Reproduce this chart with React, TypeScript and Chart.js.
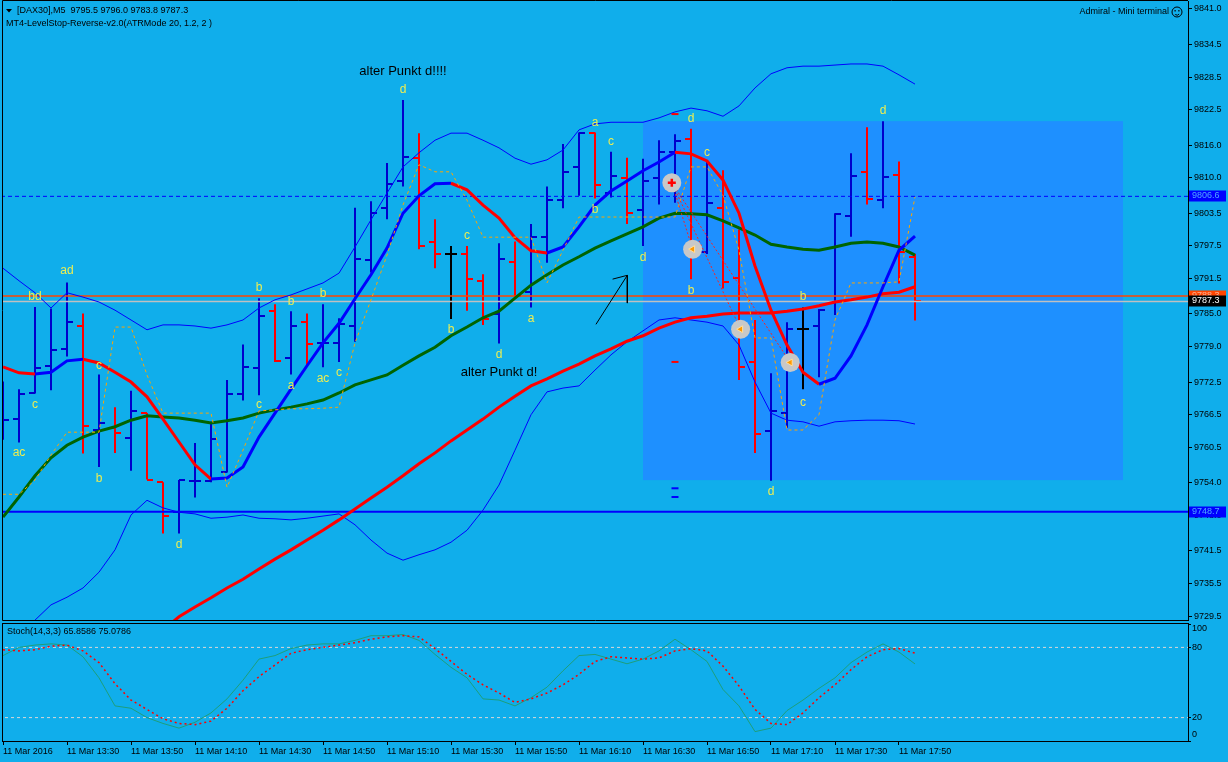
import React, { useEffect, useRef } from 'react';
import { Chart, registerables } from 'chart.js';

Chart.register(...registerables);

// ---------------- data ----------------
const symbolTitle = '[DAX30],M5';
const indicatorTitle = 'MT4-LevelStop-Reverse-v2.0(ATRMode 20, 1.2, 2 )';
const brokerTitle = 'Admiral - Mini terminal';

const timeTickIndex = [0, 4, 8, 12, 16, 20, 24, 28, 32, 36, 40, 44, 48, 52, 56];
const timeTickLabels = ['11 Mar 2016', '11 Mar 13:30', '11 Mar 13:50', '11 Mar 14:10', '11 Mar 14:30', '11 Mar 14:50', '11 Mar 15:10', '11 Mar 15:30', '11 Mar 15:50', '11 Mar 16:10', '11 Mar 16:30', '11 Mar 16:50', '11 Mar 17:10', '11 Mar 17:30', '11 Mar 17:50'];
const priceTicks = [9841.0, 9834.5, 9828.5, 9822.5, 9816.0, 9810.0, 9803.5, 9797.5, 9791.5, 9785.0, 9779.0, 9772.5, 9766.5, 9760.5, 9754.0, 9748.0, 9741.5, 9735.5, 9729.5];
const stochTicks = [0, 20, 80, 100];
const stochLevels = [20, 80];

const opens = [9764.0, 9765.8, 9770.5, 9775.5, 9778.5, 9782.8, 9763.7, 9764.1, 9762.3, 9766.8, 9754.1, 9748.7, 9754.3, 9754.3, 9755.9, 9770.4, 9775.0, 9785.5, 9777.0, 9783.6, 9779.6, 9779.7, 9782.8, 9794.9, 9804.4, 9809.4, 9813.7, 9798.3, 9796.1, 9796.0, 9791.1, 9785.0, 9794.6, 9789.1, 9799.2, 9805.9, 9812.0, 9818.3, 9807.3, 9809.9, 9804.0, 9810.0, 9814.8, 9817.1, 9796.4, 9804.4, 9791.6, 9776.1, 9763.6, 9766.9, 9782.2, 9782.8, 9787.1, 9803.0, 9811.0, 9805.9, 9810.5, 9795.5];
const highs = [9772.6, 9771.2, 9786.3, 9786.0, 9790.8, 9785.1, 9773.9, 9767.9, 9770.9, 9766.8, 9754.1, 9754.5, 9761.3, 9765.2, 9772.9, 9779.4, 9787.9, 9786.8, 9785.5, 9785.1, 9786.8, 9784.2, 9804.5, 9805.7, 9812.7, 9824.3, 9818.2, 9802.4, 9797.5, 9797.5, 9792.3, 9798.0, 9798.3, 9801.5, 9808.4, 9816.2, 9818.3, 9818.3, 9814.8, 9813.7, 9813.5, 9816.9, 9818.0, 9819.0, 9813.1, 9811.4, 9800.5, 9783.9, 9774.1, 9783.5, 9786.2, 9785.9, 9803.5, 9814.5, 9819.3, 9820.4, 9813.0, 9796.0];
const lows = [9761.9, 9761.4, 9770.4, 9771.0, 9777.2, 9759.4, 9756.9, 9759.5, 9756.2, 9754.6, 9744.7, 9744.7, 9751.3, 9754.1, 9755.9, 9769.1, 9770.1, 9776.2, 9773.9, 9775.6, 9775.2, 9776.2, 9779.9, 9792.6, 9802.4, 9808.4, 9796.9, 9793.4, 9784.1, 9785.6, 9783.0, 9779.6, 9788.2, 9786.2, 9794.4, 9804.4, 9806.7, 9806.2, 9806.4, 9801.5, 9797.5, 9805.1, 9805.4, 9791.4, 9796.0, 9789.7, 9772.9, 9759.5, 9754.4, 9764.1, 9771.2, 9773.4, 9784.8, 9799.2, 9805.1, 9804.4, 9790.6, 9783.8];
const closes = [9765.5, 9770.4, 9775.1, 9778.3, 9783.5, 9764.5, 9765.0, 9763.2, 9767.2, 9754.6, 9747.9, 9754.5, 9754.4, 9762.0, 9770.4, 9775.3, 9784.7, 9776.4, 9782.8, 9779.5, 9779.7, 9783.2, 9795.1, 9803.5, 9808.9, 9813.9, 9797.4, 9796.0, 9796.1, 9791.4, 9784.1, 9795.1, 9788.3, 9799.2, 9805.9, 9811.0, 9818.3, 9808.6, 9810.3, 9803.6, 9809.4, 9814.8, 9816.8, 9796.1, 9805.4, 9790.9, 9775.3, 9762.9, 9767.1, 9782.2, 9782.2, 9785.7, 9803.4, 9810.3, 9806.1, 9810.2, 9796.3, 9787.3];

const bbUpper = [9793.4, 9791.1, 9788.9, 9786.1, 9788.9, 9788.1, 9787.2, 9785.7, 9783.9, 9782.1, 9783.0, 9783.0, 9782.8, 9782.4, 9783.0, 9783.9, 9786.1, 9787.6, 9788.5, 9789.6, 9790.7, 9792.5, 9797.3, 9802.3, 9807.2, 9812.0, 9814.6, 9816.9, 9818.2, 9818.2, 9816.9, 9815.5, 9813.6, 9812.5, 9813.3, 9815.1, 9818.8, 9819.9, 9820.2, 9820.2, 9820.2, 9821.0, 9822.1, 9822.8, 9822.3, 9821.3, 9823.2, 9826.5, 9829.1, 9830.2, 9830.5, 9830.5, 9830.7, 9830.9, 9830.9, 9830.5, 9828.9, 9827.2];
const bbLower = [9723.3, 9725.5, 9728.8, 9731.6, 9733.0, 9734.7, 9737.6, 9741.7, 9748.1, 9750.8, 9749.4, 9748.6, 9748.3, 9747.5, 9747.7, 9748.1, 9747.5, 9747.4, 9747.2, 9747.5, 9747.9, 9748.3, 9746.3, 9743.5, 9741.1, 9739.8, 9740.8, 9741.7, 9743.1, 9745.3, 9749.0, 9753.6, 9760.0, 9766.5, 9770.7, 9771.4, 9771.8, 9774.7, 9777.5, 9779.9, 9781.9, 9783.9, 9784.3, 9783.9, 9783.5, 9782.8, 9779.3, 9772.5, 9766.8, 9765.5, 9765.2, 9764.4, 9765.2, 9765.4, 9765.5, 9765.5, 9765.4, 9764.8];
const sma20 = [9747.7, 9751.4, 9755.3, 9758.6, 9760.9, 9762.4, 9763.5, 9764.3, 9765.5, 9766.3, 9766.1, 9765.9, 9765.5, 9765.0, 9765.4, 9765.9, 9766.8, 9767.4, 9767.9, 9768.5, 9769.2, 9770.5, 9772.0, 9772.9, 9773.8, 9775.6, 9777.3, 9778.9, 9781.0, 9782.6, 9784.3, 9785.5, 9787.9, 9790.3, 9792.2, 9794.0, 9795.5, 9797.1, 9798.4, 9799.7, 9801.0, 9802.6, 9803.5, 9803.4, 9803.2, 9802.1, 9800.8, 9799.5, 9797.8, 9797.3, 9796.9, 9796.7, 9797.3, 9798.0, 9798.2, 9798.0, 9797.3, 9795.8];
const hma = [9775.3, 9774.2, 9774.0, 9774.3, 9776.4, 9776.7, 9776.0, 9774.3, 9772.5, 9769.8, 9765.7, 9761.5, 9757.3, 9754.7, 9754.9, 9756.9, 9762.4, 9766.8, 9771.2, 9775.5, 9779.7, 9783.3, 9787.8, 9792.2, 9797.1, 9803.5, 9806.7, 9808.9, 9809.0, 9807.8, 9805.0, 9802.6, 9799.0, 9796.6, 9796.2, 9797.3, 9801.0, 9805.0, 9807.6, 9809.4, 9811.3, 9812.9, 9814.7, 9814.4, 9813.1, 9809.6, 9803.5, 9793.8, 9785.7, 9779.3, 9774.3, 9772.1, 9773.2, 9777.3, 9783.0, 9790.0, 9796.7, 9799.3];
const ma100 = [null, null, null, null, null, null, null, null, null, null, 9727.0, 9729.4, 9731.2, 9732.9, 9734.7, 9736.3, 9738.2, 9740.0, 9741.7, 9743.5, 9745.3, 9747.2, 9749.2, 9751.2, 9753.2, 9755.3, 9757.5, 9759.5, 9761.7, 9763.7, 9765.7, 9767.9, 9769.9, 9771.8, 9773.1, 9774.5, 9775.8, 9777.3, 9778.6, 9780.0, 9781.0, 9782.4, 9783.5, 9784.3, 9784.6, 9785.0, 9785.2, 9785.2, 9785.2, 9785.5, 9785.9, 9786.5, 9787.2, 9787.6, 9788.1, 9788.7, 9789.0, 9790.0];
const levelStop = [9751.9, 9751.9, 9754.5, 9759.1, 9763.3, 9763.3, 9763.3, 9782.6, 9782.6, 9773.8, 9766.8, 9766.8, 9766.8, 9766.8, 9753.2, 9760.0, 9767.2, 9767.4, 9767.6, 9767.6, 9767.7, 9767.9, 9779.7, 9787.6, 9795.8, 9805.0, 9812.4, 9811.1, 9811.1, 9805.9, 9799.1, 9799.1, 9799.1, 9799.1, 9790.7, 9796.7, 9802.8, 9802.8, 9802.8, 9802.8, 9802.8, 9802.8, 9802.8, 9812.0, 9812.0, 9806.8, 9796.7, 9780.6, 9780.6, 9763.7, 9763.7, 9766.5, 9783.9, 9790.7, 9790.7, 9790.7, 9790.9, 9806.5];

const stochMain = [73, 80, 82, 83, 82, 72, 54, 30, 28, 20, 15, 11, 16, 24, 36, 52, 70, 73, 79, 82, 83, 83, 86, 90, 90, 91, 86, 74, 63, 54, 36, 35, 30, 37, 46, 60, 73, 74, 70, 66, 70, 77, 87, 78, 68, 44, 30, 8, 11, 26, 35, 45, 54, 67, 76, 83, 76, 65.8586];
const stochSignal = [78, 77, 78, 81, 82, 77, 67, 49, 35, 27, 19, 15, 14, 17, 28, 43, 55, 65, 75, 78, 80, 82, 84, 87, 89, 90, 89, 79, 68, 57, 48, 41, 33, 36, 41, 48, 57, 68, 72, 71, 70, 71, 77, 79, 77, 64, 47, 27, 15, 14, 24, 37, 48, 61, 72, 78, 79, 75.0786];

// horizontal price lines: pending level, red level, bid, support
const hLinePrices = [9806.6, 9788.3, 9787.3, 9748.7];
// rectangle [fromBar, toBar, topPrice, bottomPrice]
const rectBox = [40, 70, 9820.4, 9754.5];
// wave labels [bar, price, text]
const waveLabels: [number, number, string][] = [
  [1, 9759.5, 'ac'], [2, 9788.1, 'bd'], [4, 9792.9, 'ad'], [2, 9768.3, 'c'], [6, 9775.6, 'c'], [6, 9754.7, 'b'],
  [11, 9742.6, 'd'], [16, 9768.3, 'c'], [16, 9789.8, 'b'], [18, 9787.2, 'b'], [18, 9771.8, 'a'], [20, 9788.7, 'b'],
  [20, 9773.1, 'ac'], [21, 9774.3, 'c'], [25, 9826.1, 'd'], [29, 9799.3, 'c'], [28, 9782.1, 'b'], [31, 9777.5, 'd'],
  [33, 9784.1, 'a'], [37, 9820.2, 'a'], [38, 9816.6, 'c'], [37, 9804.1, 'b'], [40, 9795.3, 'd'], [43, 9820.8, 'd'],
  [44, 9814.7, 'c'], [43, 9789.2, 'b'], [50, 9788.1, 'b'], [50, 9768.8, 'c'], [48, 9752.3, 'd'], [55, 9822.3, 'd'],
];
const notes: [number, number, string][] = [
  [25, 9829.6, 'alter Punkt d!!!!'],
  [31, 9774.3, 'alter Punkt d!'],
];
// trade markers
const tradeBars = [41.8, 43.1, 46.1, 49.2];
const tradePrices = [9809.1, 9796.9, 9782.2, 9776.1];
const redMarkBars = [42, 42];
const redMarkPrices = [9821.7, 9776.2];
const blueMarkBars = [42, 42];
const blueMarkPrices = [9753.0, 9751.4];
// hand-drawn arrow
const arrowShaft = [[37.06, 9783.1], [39.02, 9792.1]];
const arrowHead = [[38.1, 9791.4], [39.02, 9792.1], [39.02, 9787.0]];

// ---------------- styling ----------------
const FONT = '"Liberation Sans", Arial, sans-serif';
const BG = '#10AEEB';
const BAR_UP = '#0000CC';
const BAR_DN = '#FF0000';
const BAR_EQ = '#000000';
const X_MIN = -0.0625;
const X_MAX = 74.0625;
const Y_MAX = 9842.46;
const Y_MIN = 9728.82;

const pts = (arr: (number | null)[]) => arr.map((v, i) => ({ x: i, y: v }));
const barColor = (i: number) => (closes[i] > opens[i] ? BAR_UP : closes[i] < opens[i] ? BAR_DN : BAR_EQ);

function mkTick(color: string, left: boolean) {
  const c = document.createElement('canvas');
  c.width = 12;
  c.height = 2;
  const g = c.getContext('2d')!;
  g.fillStyle = color;
  g.fillRect(left ? 0 : 6, 0, 6, 2);
  return c;
}

const lineDs = (data: any[], color: string, width: number, extra: any = {}) => ({
  type: 'line',
  data,
  borderColor: color,
  backgroundColor: color,
  borderWidth: width,
  pointRadius: 0,
  fill: false,
  tension: 0,
  clip: 0,
  ...extra,
});

const noPad = (s: any) => {
  s.paddingTop = 0;
  s.paddingBottom = 0;
  s.paddingLeft = 0;
  s.paddingRight = 0;
};

const mainDecor = {
  id: 'mainDecor',
  beforeDatasetsDraw(chart: any) {
    const { ctx, chartArea: a, scales } = chart;
    const x = scales.x, y = scales.y;
    ctx.save();
    ctx.beginPath();
    ctx.rect(a.left, a.top, a.right - a.left, a.bottom - a.top);
    ctx.clip();
    const x0 = x.getPixelForValue(rectBox[0]);
    const x1 = x.getPixelForValue(rectBox[1]);
    const y0 = y.getPixelForValue(rectBox[2]);
    const y1 = y.getPixelForValue(rectBox[3]);
    ctx.fillStyle = '#1E90FF';
    ctx.fillRect(x0, y0, x1 - x0, y1 - y0);
    ctx.restore();
  },
  afterDatasetsDraw(chart: any) {
    const { ctx, scales } = chart;
    const x = scales.x, y = scales.y;
    ctx.save();
    ctx.textAlign = 'center';
    ctx.textBaseline = 'middle';
    ctx.font = '12px ' + FONT;
    ctx.fillStyle = '#EEEE50';
    waveLabels.forEach(([i, p, t]) => ctx.fillText(t, x.getPixelForValue(i), y.getPixelForValue(p)));
    ctx.font = '13px ' + FONT;
    ctx.fillStyle = '#000000';
    notes.forEach(([i, p, t]) => ctx.fillText(t, x.getPixelForValue(i), y.getPixelForValue(p)));
    ctx.restore();
  },
  afterDraw(chart: any) {
    const { ctx, chartArea: a, scales } = chart;
    const y = scales.y;
    ctx.save();
    // frame
    ctx.strokeStyle = '#000';
    ctx.lineWidth = 1;
    ctx.beginPath();
    ctx.moveTo(a.left + 0.5, a.top - 0.5);
    ctx.lineTo(a.right, a.top - 0.5);
    ctx.moveTo(a.left + 0.5, a.top - 0.5);
    ctx.lineTo(a.left + 0.5, a.bottom + 0.5);
    ctx.lineTo(a.right + 0.5, a.bottom + 0.5);
    ctx.stroke();
    // header
    ctx.fillStyle = '#000';
    ctx.beginPath();
    ctx.moveTo(a.left + 4, a.top + 8);
    ctx.lineTo(a.left + 10, a.top + 8);
    ctx.lineTo(a.left + 7, a.top + 11.5);
    ctx.closePath();
    ctx.fill();
    ctx.font = '9px ' + FONT;
    ctx.textBaseline = 'middle';
    ctx.textAlign = 'left';
    const n = closes.length - 1;
    ctx.fillText(`${symbolTitle}  ${opens[n].toFixed(1)} ${highs[n].toFixed(1)} ${lows[n].toFixed(1)} ${closes[n].toFixed(1)}`, a.left + 15, a.top + 10);
    ctx.fillText(indicatorTitle, a.left + 4, a.top + 23);
    ctx.textAlign = 'right';
    ctx.fillText(brokerTitle, a.right - 19, a.top + 11);
    // smiley
    const sx = a.right - 11, sy = a.top + 11;
    ctx.beginPath();
    ctx.arc(sx, sy, 5, 0, Math.PI * 2);
    ctx.stroke();
    ctx.fillRect(sx - 2.5, sy - 2, 1.2, 1.5);
    ctx.fillRect(sx + 1.3, sy - 2, 1.2, 1.5);
    ctx.beginPath();
    ctx.arc(sx, sy + 0.5, 2.6, 0.2 * Math.PI, 0.8 * Math.PI);
    ctx.stroke();
    // price boxes
    const boxStyles = [
      { fill: '#0000FF', text: '#4FA8FF' },
      { fill: '#FF4500', text: '#FFB090' },
      { fill: '#000000', text: '#FFFFFF' },
      { fill: '#0000FF', text: '#4FA8FF' },
    ];
    ctx.textAlign = 'left';
    ctx.font = '9px ' + FONT;
    [1, 0, 2, 3].forEach((k) => {
      const py = Math.round(y.getPixelForValue(hLinePrices[k]));
      ctx.fillStyle = boxStyles[k].fill;
      ctx.fillRect(a.right + 1, py - 5.5, 37, 11);
      ctx.fillStyle = boxStyles[k].text;
      ctx.fillText(hLinePrices[k].toFixed(1), a.right + 4, py);
    });
    ctx.restore();
  },
};

const stochDecor = {
  id: 'stochDecor',
  afterDraw(chart: any) {
    const { ctx, chartArea: a, scales } = chart;
    const y = scales.y;
    ctx.save();
    ctx.strokeStyle = '#000';
    ctx.lineWidth = 1;
    ctx.strokeRect(a.left + 0.5, a.top - 0.5, a.right - a.left, a.bottom - a.top + 1);
    ctx.fillStyle = '#000';
    ctx.font = '9px ' + FONT;
    ctx.textBaseline = 'middle';
    ctx.textAlign = 'left';
    const n = stochMain.length - 1;
    ctx.fillText(`Stoch(14,3,3) ${stochMain[n].toFixed(4)} ${stochSignal[n].toFixed(4)}`, a.left + 5, a.top + 8);
    stochTicks.forEach((v) => {
      let py = y.getPixelForValue(v);
      py = Math.min(Math.max(py, a.top + 5), a.bottom - 6);
      ctx.fillText(String(v), a.right + 4, py);
    });
    ctx.restore();
  },
};

export default function App() {
  const refA = useRef<HTMLCanvasElement>(null);
  const refB = useRef<HTMLCanvasElement>(null);

  useEffect(() => {
    Chart.defaults.font.family = FONT;
    Chart.defaults.font.size = 9;

    const openImg: Record<string, HTMLCanvasElement> = {};
    const closeImg: Record<string, HTMLCanvasElement> = {};
    [BAR_UP, BAR_DN, BAR_EQ].forEach((c) => {
      openImg[c] = mkTick(c, true);
      closeImg[c] = mkTick(c, false);
    });

    const c1 = { x: tradeBars[0], y: tradePrices[0] };
    const tradeLine = (k: number) => lineDs([c1, { x: tradeBars[k], y: tradePrices[k] }], '#FF2020', 1, { borderDash: [2, 2] });
    const hLine = (p: number, color: string, w: number, extra: any = {}) =>
      lineDs([{ x: -1, y: p }, { x: 100, y: p }], color, w, extra);

    const datasetsA: any[] = [
      {
        type: 'line', showLine: false, clip: 0,
        data: tradeBars.map((b, i) => ({ x: b, y: tradePrices[i] })),
        pointStyle: (c: any) => (c.dataIndex === 0 ? 'cross' : 'triangle'),
        rotation: (c: any) => (c.dataIndex === 0 ? 0 : 270),
        pointRadius: 4,
        pointBackgroundColor: (c: any) => (c.dataIndex === 0 ? '#FF0000' : '#FF9900'),
        pointBorderColor: (c: any) => (c.dataIndex === 0 ? '#FF0000' : '#FFE0A0'),
        pointBorderWidth: (c: any) => (c.dataIndex === 0 ? 2.5 : 1),
      },
      {
        type: 'line', showLine: false, clip: 0,
        data: tradeBars.map((b, i) => ({ x: b, y: tradePrices[i] })),
        pointStyle: 'circle', pointRadius: 9.5,
        pointBackgroundColor: '#C8C8C8', pointBorderWidth: 0,
      },
      {
        type: 'line', showLine: false, clip: 0,
        data: redMarkBars.map((b, i) => ({ x: b, y: redMarkPrices[i] })),
        pointStyle: 'line', pointRadius: 3.5, pointBorderColor: '#FF0000', pointBorderWidth: 2,
      },
      {
        type: 'line', showLine: false, clip: 0,
        data: blueMarkBars.map((b, i) => ({ x: b, y: blueMarkPrices[i] })),
        pointStyle: 'line', pointRadius: 3.5, pointBorderColor: '#0000FF', pointBorderWidth: 2,
      },
      lineDs(arrowShaft.map(([x, y]) => ({ x, y })), '#000000', 1),
      lineDs(arrowHead.map(([x, y]) => ({ x, y })), '#000000', 1),
      tradeLine(1),
      tradeLine(2),
      tradeLine(3),
      lineDs(pts(levelStop), '#FFA500', 1, { borderDash: [3, 3] }),
      lineDs(pts(hma), '#0000FF', 3, {
        segment: { borderColor: (c: any) => (c.p1.parsed.y >= c.p0.parsed.y ? '#0000FF' : '#FF0000') },
      }),
      lineDs(pts(sma20), '#006400', 3),
      lineDs(pts(ma100), '#FF0000', 3),
      lineDs(pts(bbUpper), '#0000FF', 1),
      lineDs(pts(bbLower), '#0000FF', 1),
      hLine(hLinePrices[0], '#0000FF', 1, { borderDash: [4, 3] }),
      hLine(hLinePrices[1], '#FF4500', 1.5),
      hLine(hLinePrices[2], '#C0C0C0', 1.5),
      hLine(hLinePrices[3], '#0000FF', 2),
      {
        type: 'line', showLine: false, clip: 0,
        data: pts(opens),
        pointRadius: 3,
        pointStyle: (c: any) => openImg[barColor(c.dataIndex ?? 0)],
      },
      {
        type: 'line', showLine: false, clip: 0,
        data: pts(closes),
        pointRadius: 3,
        pointStyle: (c: any) => closeImg[barColor(c.dataIndex ?? 0)],
      },
      {
        type: 'bar',
        data: opens.map((_, i) => ({ x: i, y: [lows[i], highs[i]] })),
        backgroundColor: opens.map((_, i) => barColor(i)),
        borderWidth: 0,
        barThickness: 2,
        inflateAmount: 0,
        clip: 0,
      },
    ];

    const chartA = new Chart(refA.current!, {
      type: 'line',
      data: { datasets: datasetsA },
      options: {
        responsive: false,
        animation: false,
        devicePixelRatio: 1,
        events: [],
        layout: { autoPadding: false, padding: { left: 2, top: 1, right: 0, bottom: 142 } },
        plugins: { legend: { display: false }, tooltip: { enabled: false } },
        scales: {
          x: { type: 'linear', display: false, min: X_MIN, max: X_MAX, offset: false, grid: { offset: false, display: false } },
          y: {
            type: 'linear', position: 'right', min: Y_MIN, max: Y_MAX, beginAtZero: false,
            afterFit: (s: any) => { s.width = 40; noPad(s); },
            afterBuildTicks: (s: any) => { s.ticks = priceTicks.map((v) => ({ value: v })); },
            grid: { drawOnChartArea: false, drawTicks: true, tickLength: 4, color: '#000000' },
            border: { display: true, color: '#000000', width: 1 },
            ticks: { color: '#000000', padding: 2, autoSkip: false, font: { size: 9 }, callback: (v: any) => Number(v).toFixed(1) },
          },
        },
      } as any,
      plugins: [mainDecor],
    } as any);

    const chartB = new Chart(refB.current!, {
      type: 'line',
      data: {
        datasets: [
          lineDs(pts(stochSignal), '#FF0000', 1.5, { borderDash: [2, 3] }),
          lineDs(pts(stochMain), '#1E9E7A', 1),
          ...stochLevels.map((lv) => lineDs([{ x: -1, y: lv }, { x: 100, y: lv }], '#D8D8D8', 1, { borderDash: [3, 3] })),
        ],
      },
      options: {
        responsive: false,
        animation: false,
        devicePixelRatio: 1,
        events: [],
        layout: { autoPadding: false, padding: { left: 2, top: 624, right: 0, bottom: 0 } },
        plugins: { legend: { display: false }, tooltip: { enabled: false } },
        scales: {
          x: {
            type: 'linear', position: 'bottom', min: X_MIN, max: X_MAX, offset: false,
            afterFit: (s: any) => { s.height = 21; noPad(s); },
            afterBuildTicks: (s: any) => { s.ticks = timeTickIndex.map((v) => ({ value: v })); },
            grid: { drawOnChartArea: false, drawTicks: true, tickLength: 4, color: '#000000', offset: false },
            border: { display: true, color: '#000000' },
            ticks: { color: '#000000', align: 'start', padding: 1, maxRotation: 0, minRotation: 0, autoSkip: false, font: { size: 9 }, callback: (_v: any, idx: number) => timeTickLabels[idx] },
          },
          y: {
            type: 'linear', position: 'right', min: 0, max: 100,
            afterFit: (s: any) => { s.width = 40; noPad(s); },
            afterBuildTicks: (s: any) => { s.ticks = stochTicks.map((v) => ({ value: v })); },
            grid: { drawOnChartArea: false, drawTicks: true, tickLength: 3, color: '#000000' },
            border: { display: true, color: '#000000' },
            ticks: { display: false },
          },
        },
      } as any,
      plugins: [stochDecor],
    } as any);

    return () => {
      chartA.destroy();
      chartB.destroy();
    };
  }, []);

  return (
    <div style={{ position: 'fixed', left: 0, top: 0, width: 1228, height: 762, background: BG, overflow: 'hidden' }}>
      <canvas ref={refA} width={1228} height={762} style={{ position: 'absolute', left: 0, top: 0 }} />
      <canvas ref={refB} width={1228} height={762} style={{ position: 'absolute', left: 0, top: 0 }} />
    </div>
  );
}
